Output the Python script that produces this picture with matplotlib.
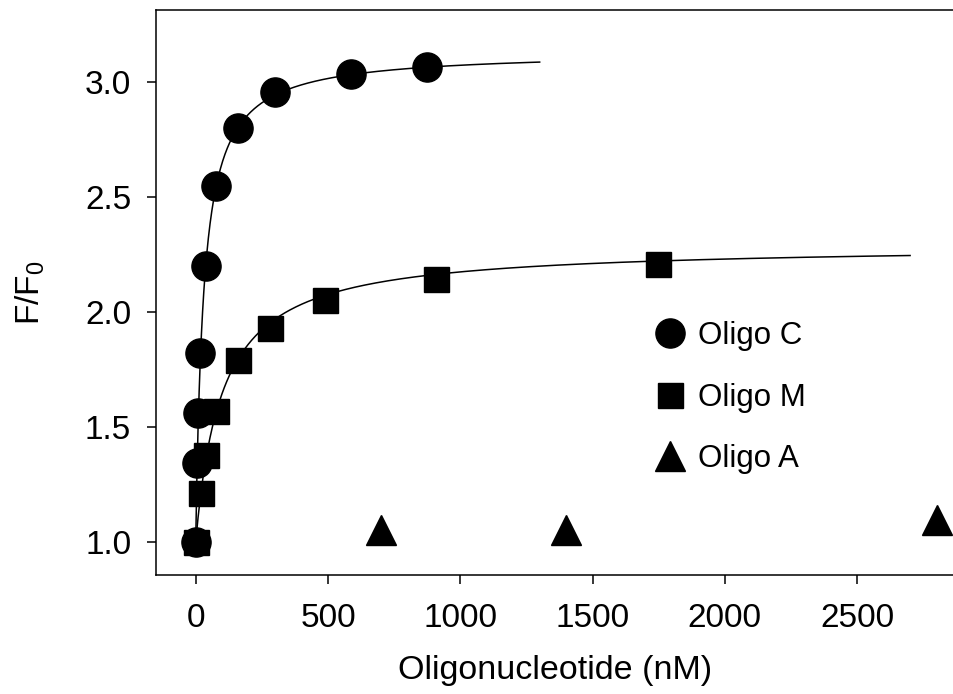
import numpy as np
import matplotlib
matplotlib.use("Agg")
import matplotlib.pyplot as plt

plt.rcParams['font.family'] = ['Liberation Sans', 'DejaVu Sans']
plt.rcParams['mathtext.fontset'] = 'custom'
plt.rcParams['mathtext.rm'] = 'Liberation Sans'
plt.rcParams['mathtext.default'] = 'regular'

oligo_c_x = [0, 4, 9, 18, 38, 77, 158, 299, 586, 873]
oligo_c_y = [1.00, 1.34, 1.56, 1.82, 2.20, 2.545, 2.80, 2.955, 3.035, 3.065]
oligo_m_x = [0, 19, 39, 77, 159, 279, 489, 908, 1749]
oligo_m_y = [1.00, 1.21, 1.375, 1.57, 1.79, 1.93, 2.05, 2.14, 2.205]
oligo_a_x = [700, 1400, 2800]
oligo_a_y = [1.05, 1.05, 1.095]

# hyperbolic binding fits  F/F0 = 1 + Bmax*x/(Kd+x)
fit_c = {'bmax': 2.132, 'kd': 29.4, 'xmax': 1300}
fit_m = {'bmax': 1.29, 'kd': 100.0, 'xmax': 2700}


def binding(x, bmax, kd):
    return 1 + bmax * x / (kd + x)


fig = plt.figure(figsize=(9.54, 6.94), dpi=100)
ax = fig.add_axes([155.5 / 954, 119 / 694, 798.5 / 954, 564.7 / 694])

for fit in (fit_c, fit_m):
    xs = np.linspace(0, fit['xmax'], 600)
    ax.plot(xs, binding(xs, fit['bmax'], fit['kd']), color='black', lw=1.1, zorder=2)

ax.plot(oligo_m_x, oligo_m_y, 's', color='black', ms=18, ls='none', label='Oligo M', zorder=3)
ax.plot(oligo_c_x, oligo_c_y, 'o', color='black', ms=21, ls='none', label='Oligo C', zorder=4)
ax.plot(oligo_a_x, oligo_a_y, '^', color='black', ms=21, ls='none', label='Oligo A', zorder=3)

ax.set_xlim(-152, 2866)
ax.set_ylim(0.855, 3.31)
ax.set_xticks([0, 500, 1000, 1500, 2000, 2500])
ax.set_yticks([1.0, 1.5, 2.0, 2.5, 3.0])
ax.set_yticklabels(['1.0', '1.5', '2.0', '2.5', '3.0'])
ax.tick_params(direction='out', length=6.5, width=1.1, labelsize=24)
ax.tick_params(axis='y', pad=11)
ax.tick_params(axis='x', pad=14)
for side in ('left', 'bottom', 'top'):
    ax.spines[side].set_linewidth(1.1)
ax.spines['right'].set_visible(False)

ax.set_xlabel('Oligonucleotide (nM)', fontsize=24.5, labelpad=15)
ax.set_ylabel('F/F$_0$', fontsize=24)
ax.yaxis.set_label_coords((47 - 155.5) / 798.5, 0.5)

handles, labels = ax.get_legend_handles_labels()
order = [1, 0, 2]
ax.legend([handles[i] for i in order], [labels[i] for i in order],
          loc='upper left', bbox_to_anchor=(0.673, 0.555), bbox_transform=fig.transFigure,
          frameon=False, fontsize=22.5, handlelength=1.0, handletextpad=0.4,
          labelspacing=1.0, borderaxespad=0, numpoints=1)

fig.savefig('out.png', dpi=100)
